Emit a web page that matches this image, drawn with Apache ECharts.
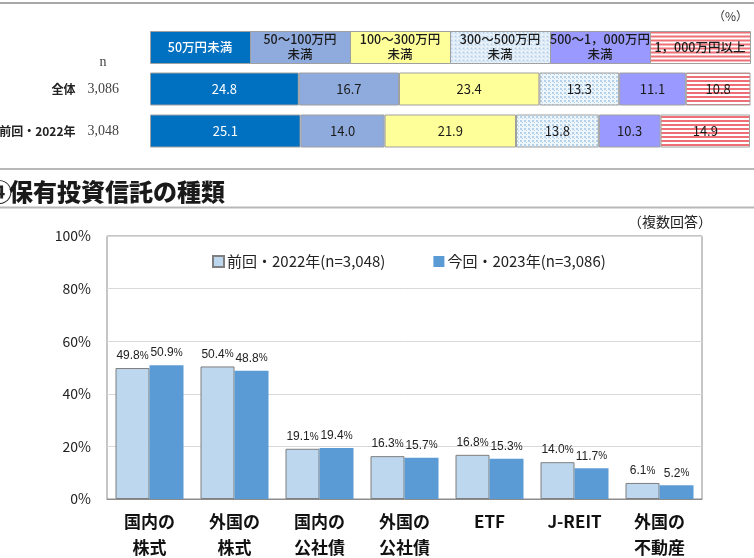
<!DOCTYPE html>
<html><head><meta charset="utf-8">
<script src="https://cdn.jsdelivr.net/npm/echarts@6/dist/echarts.min.js"></script>
<style>html,body{margin:0;padding:0;background:#fff}#c{width:754px;height:558px}</style>
</head><body><div id="c"></div>
<script>
// ---- top chart data ----
const amountBands = ['50万円未満', '50～100万円\n未満', '100～300万円\n未満', '300～500万円\n未満', '500～1，000万円\n未満', '1，000万円以上'];
const rowNames = ['全体', '前回・2022年'];
const rowN = ['3,086', '3,048'];
const band1 = [24.8, 25.1];
const band2 = [16.7, 14.0];
const band3 = [23.4, 21.9];
const band4 = [13.3, 13.8];
const band5 = [11.1, 10.3];
const band6 = [10.8, 14.9];
// ---- bottom chart data ----
const fundTypes = ['国内の\n株式', '外国の\n株式', '国内の\n公社債', '外国の\n公社債', 'ETF', 'J-REIT', '外国の\n不動産'];
const seriesPrev = [49.8, 50.4, 19.1, 16.3, 16.8, 14.0, 6.1];
const seriesCurr = [50.9, 48.8, 19.4, 15.7, 15.3, 11.7, 5.2];
const yTicks = [0, 20, 40, 60, 80, 100];

const FONT = '"Noto Sans CJK JP","Noto Sans",sans-serif';
const SERIF = '"Liberation Serif","DejaVu Serif",serif';

function makePattern(w, h, draw) {
  const c = document.createElement('canvas'); c.width = w; c.height = h;
  const g = c.getContext('2d'); draw(g); return { image: c, repeat: 'repeat' };
}
const dots = makePattern(4, 4, g => { g.fillStyle = '#EEF5FB'; g.fillRect(0, 0, 4, 4); g.fillStyle = '#B4D2EC'; g.fillRect(0, 0, 2, 2); g.fillRect(2, 2, 1, 1); });
const stripes = makePattern(4, 4, g => { g.fillStyle = '#ffffff'; g.fillRect(0, 0, 4, 4); g.fillStyle = '#EE6F76'; g.fillRect(0, 0, 4, 2); });

const bandFills = ['#0070C0', '#8FAADC', '#FFFF99', dots, '#9999FF', stripes];
const bandText = ['#ffffff', '#1a1a1a', '#1a1a1a', '#1a1a1a', '#1a1a1a', '#1a1a1a'];
const bandData = [band1, band2, band3, band4, band5, band6];

const topSeries = bandData.map((d, i) => ({
  type: 'bar', name: amountBands[i], stack: 'amt', xAxisIndex: 0, yAxisIndex: 0,
  barWidth: 33, data: d,
  itemStyle: { color: bandFills[i], borderColor: '#a0a0a0', borderWidth: 1 },
  label: { show: true, position: 'inside', color: bandText[i], fontSize: 13, fontFamily: FONT, formatter: p => p.value.toFixed(1) },
  silent: true
}));

const graphics = [];
amountBands.forEach((t, i) => {
  graphics.push({ type: 'rect', left: 150 + i * 100, top: 31, shape: { width: 100, height: 32 },
    style: { fill: bandFills[i], stroke: '#a0a0a0', lineWidth: 1 }, z: 10 });
  graphics.push({ type: 'text', x: 200 + i * 100, y: 47, z: 11,
    style: { text: t, fill: bandText[i], font: '500 12.5px ' + FONT, textAlign: 'center', textVerticalAlign: 'middle', lineHeight: 15 } });
});
graphics.push(
  { type: 'line', shape: { x1: 0, y1: 3, x2: 754, y2: 3 }, style: { stroke: '#a8a8a8', lineWidth: 2 } },
  { type: 'text', x: 748, y: 16, style: { text: '（%）', fill: '#333', font: '12px ' + FONT, textAlign: 'right', textVerticalAlign: 'middle' } },
  { type: 'text', x: 103, y: 62, style: { text: 'n', fill: '#444', font: '14px ' + SERIF, textAlign: 'center', textVerticalAlign: 'middle' } },
  { type: 'line', shape: { x1: 0, y1: 169, x2: 754, y2: 169 }, style: { stroke: '#b8b8b8', lineWidth: 2 } },
  { type: 'line', shape: { x1: 0, y1: 207.5, x2: 754, y2: 207.5 }, style: { stroke: '#b8b8b8', lineWidth: 2 } },
  { type: 'text', x: -12, y: 192, style: { text: '④', fill: '#222', font: 'bold 24px ' + FONT, textAlign: 'left', textVerticalAlign: 'middle' } },
  { type: 'text', x: 9, y: 192, style: { text: '保有投資信託の種類', fill: '#1a1a1a', font: '900 24px ' + FONT, textAlign: 'left', textVerticalAlign: 'middle' } },
  { type: 'text', x: 712, y: 222, style: { text: '（複数回答）', fill: '#222', font: '14px ' + FONT, textAlign: 'right', textVerticalAlign: 'middle' } }
);

const option = {
  animation: false,
  backgroundColor: '#fff',
  textStyle: { fontFamily: FONT },
  grid: [
    { left: 150, width: 600, top: 68, height: 84, outerBoundsMode: 'none', containLabel: false },
    { left: 107, right: 52, top: 236, bottom: 59, show: true, borderColor: '#8c8c8c', borderWidth: 1, outerBoundsMode: 'none', containLabel: false }
  ],
  xAxis: [
    { type: 'value', gridIndex: 0, min: 0, max: 100, show: false },
    { type: 'category', gridIndex: 1, data: fundTypes,
      axisLine: { lineStyle: { color: '#8c8c8c' } }, axisTick: { show: false },
      axisLabel: { color: '#111', fontSize: 17, fontWeight: 'bold', fontFamily: FONT, lineHeight: 26, margin: 10, interval: 0 } }
  ],
  yAxis: [
    { type: 'category', gridIndex: 0, data: rowNames, inverse: true,
      axisLine: { show: false }, axisTick: { show: false },
      axisLabel: { margin: 31, formatter: (v, i) => '{a|' + v + '}{n|' + rowN[i] + '}',
        rich: { a: { fontWeight: 'bold', fontSize: 12, color: '#222', fontFamily: FONT },
                n: { fontSize: 14, color: '#444', fontFamily: SERIF, padding: [0, 0, 0, 12] } } } },
    { type: 'value', gridIndex: 1, min: 0, max: 100, interval: 20,
      axisLine: { show: false }, axisTick: { show: false },
      splitLine: { lineStyle: { color: '#d9d9d9' } },
      axisLabel: { formatter: '{value}%', color: '#222', fontSize: 14, margin: 16, fontFamily: FONT } }
  ],
  legend: {
    top: 249, left: 207, itemGap: 48, itemWidth: 11, itemHeight: 11,
    textStyle: { fontSize: 15, color: '#222', fontFamily: FONT, padding: [0, 0, 0, -2] },
    data: [
      { name: '前回・2022年(n=3,048)', icon: 'rect' },
      { name: '今回・2023年(n=3,086)', icon: 'rect' }
    ]
  },
  series: topSeries.concat([
    { type: 'bar', name: '前回・2022年(n=3,048)', xAxisIndex: 1, yAxisIndex: 1, data: seriesPrev,
      barWidth: 34, barGap: '0%',
      itemStyle: { color: '#BDD7EE', borderColor: '#7f7f7f', borderWidth: 1 },
      label: { show: true, position: 'top', distance: 6, formatter: p => '{v|' + p.value.toFixed(1) + '}{p|%}',
        rich: { v: { fontSize: 12, color: '#222', fontFamily: '"Liberation Sans",Arial,sans-serif' }, p: { fontSize: 10, color: '#222', fontFamily: '"Liberation Sans",Arial,sans-serif' } } } },
    { type: 'bar', name: '今回・2023年(n=3,086)', xAxisIndex: 1, yAxisIndex: 1, data: seriesCurr,
      barWidth: 34, barGap: '0%',
      itemStyle: { color: '#5B9BD5' },
      label: { show: true, position: 'top', distance: 6, formatter: p => '{v|' + p.value.toFixed(1) + '}{p|%}',
        rich: { v: { fontSize: 12, color: '#222', fontFamily: '"Liberation Sans",Arial,sans-serif' }, p: { fontSize: 10, color: '#222', fontFamily: '"Liberation Sans",Arial,sans-serif' } } } }
  ]),
  graphic: graphics
};
echarts.init(document.getElementById('c')).setOption(option);
</script></body></html>
